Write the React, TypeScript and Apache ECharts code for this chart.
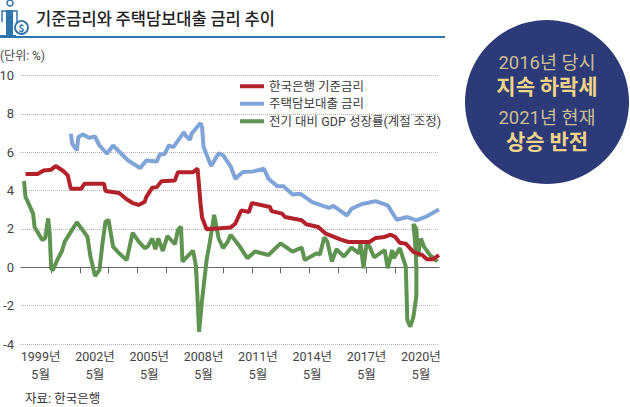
import React, { useEffect, useRef } from "react";
import * as echarts from "echarts";

const title = "기준금리와 주택담보대출 금리 추이";
const unitLabel = "(단위: %)";
const sourceLabel = "자료: 한국은행";
const seriesNames = ["한국은행 기준금리", "주택담보대출 금리", "전기 대비 GDP 성장률(계절 조정)"];
const calloutLines = ["2016년 당시", "지속 하락세", "2021년 현재", "상승 반전"];

// monthly categories, April 1998 to January 2021
const months: string[] = [];
for (let i = 0; i < 278; i++) {
  const m = 3 + i;
  months.push(`${1998 + Math.floor(m / 12)}-${(m % 12) + 1}`);
}

const baseRate: [number, number][] = [
  [3, 4.86], [11, 4.86], [15, 5.05], [20, 5.09], [23, 5.28], [28, 5.02], [31, 4.79], [33, 4.1], [40, 4.1], [42, 4.36],
  [55, 4.36], [56, 3.98], [65, 3.87], [70, 3.55], [74, 3.35], [78, 3.25], [82, 3.42], [83, 3.66], [87, 4.15], [90, 4.18],
  [93, 4.48], [102, 4.53], [104, 4.96], [114, 4.96], [117, 5.14], [119, 3.3], [120, 2.6], [123, 1.98], [139, 2.08], [142, 2.27],
  [146, 2.97], [151, 2.88], [153, 3.35], [165, 3.14], [166, 2.93], [173, 2.8], [175, 2.62], [186, 2.45], [189, 2.24], [197, 2.1],
  [202, 1.75], [212, 1.44], [217, 1.32], [231, 1.32], [235, 1.53], [241, 1.58], [245, 1.7], [248, 1.58], [251, 1.28], [255, 1.23],
  [260, 0.8], [266, 0.63], [269, 0.42], [273, 0.42], [277, 0.63],
];

const mortgageRate: [number, number][] = [
  [33, 6.96], [34, 6.44], [37, 6.09], [38, 6.79], [41, 6.93], [45, 6.75], [49, 6.82], [52, 6.35], [57, 5.92], [61, 6.35],
  [71, 5.57], [79, 5.17], [83, 5.57], [90, 5.52], [92, 5.89], [95, 5.89], [98, 6.35], [101, 6.27], [108, 7.05], [109, 6.88],
  [112, 6.65], [113, 6.96], [119, 7.52], [120, 7.3], [121, 6.27], [126, 5.28], [131, 5.95], [134, 5.83], [139, 5.25], [142, 4.62],
  [147, 4.97], [154, 5.0], [161, 5.14], [164, 4.62], [170, 4.22], [174, 4.22], [180, 3.8], [185, 3.84], [193, 3.4], [204, 3.1],
  [207, 3.2], [216, 2.7], [219, 3.05], [226, 3.3], [235, 3.45], [243, 3.23], [249, 2.48], [256, 2.62], [262, 2.45], [269, 2.66],
  [277, 3.02],
];

const gdpGrowth: [number, number][] = [
  [2, 4.5], [3, 3.65], [4, 3.5], [8, 2.8], [9, 2.1], [14, 1.43], [16, 1.5], [18, 2.55], [19, 1.77], [20, -0.05],
  [21, -0.17], [24, 0.38], [27, 0.82], [29, 1.34], [37, 2.35], [44, 1.6], [46, 0.56], [49, -0.45], [52, -0.14], [54, 1.25],
  [56, 2.38], [58, 2.47], [61, 1.08], [65, 0.73], [70, 0.38], [74, 1.8], [78, 1.34], [82, 1.0], [84, 1.08], [87, 1.5],
  [89, 0.94], [91, 1.5], [94, 0.85], [97, 1.63], [102, 1.2], [104, 1.95], [106, 2.12], [107, 0.3], [114, 0.87], [116, 0.03],
  [118, -3.36], [120, -1.7], [123, 0.38], [125, 1.25], [128, 2.73], [131, 1.5], [134, 1.0], [137, 1.34], [139, 1.69], [145, 1.08],
  [150, 0.47], [155, 0.82], [164, 0.64], [172, 1.25], [180, 0.82], [186, 1.03], [188, 0.38], [196, 0.73], [198, 0.65], [201, 1.56],
  [203, 1.34], [206, 0.3], [209, 0.94], [214, 0.56], [219, 1.03], [224, 0.73], [225, 1.25], [227, -0.05], [229, 1.25], [231, 1.08],
  [234, 0.52], [241, 0.9], [243, -0.05], [246, 0.9], [247, 0.47], [251, 1.0], [255, 0.03], [256, -2.75], [258, -3.1], [260, -2.6],
  [262, -1.5], [262, 0], [261, 1.5], [260, 2.26], [262, 2.0], [263, 0.56], [265, 1.5], [267, 1.08], [271, 0.64], [276, 0.3],
];

const colors = { base: "#b3222b", mortgage: "#7fa5d8", gdp: "#5f9450", brand: "#2f75ad", navy: "#2c3a78" };
const FONT = '"Noto Sans CJK KR", "Noto Sans", sans-serif';
const LATIN = 'Roboto, "Noto Sans CJK KR", sans-serif';

export default function App() {
  const ref = useRef<HTMLDivElement>(null);
  useEffect(() => {
    const chart = echarts.init(ref.current!, undefined, { renderer: "svg" });
    const icon = colors.brand;
    chart.setOption({
      animation: false,
      backgroundColor: "#ffffff",
      grid: { left: 21, right: 191, top: 75.5, bottom: 63, outerBoundsMode: "none" },
      legend: {
        left: 240,
        top: 80,
        padding: 0,
        orient: "vertical",
        itemWidth: 24,
        itemHeight: 4,
        itemGap: 5,
        icon: "rect",
        data: seriesNames,
        textStyle: { fontFamily: LATIN, fontSize: 12.5, color: "#3a3a3a" },
      },
      xAxis: [
        {
          type: "category",
          data: months,
          boundaryGap: false,
          position: "bottom",
          axisLine: { onZero: true, lineStyle: { color: "#666", width: 1 } },
          axisTick: { length: 6, lineStyle: { color: "#666" }, interval: (i: number) => i % 19 === 1 && i >= 20 && i <= 248 },
          axisLabel: { show: false },
        },
        {
          type: "category",
          data: months,
          boundaryGap: false,
          position: "bottom",
          axisLine: { show: false, onZero: false },
          axisTick: { show: false },
          axisLabel: {
            interval: (i: number) => i % 36 === 13,
            margin: 3,
            fontFamily: LATIN,
            fontSize: 12.5,
            lineHeight: 18,
            color: "#444",
            hideOverlap: false,
            formatter: (v: string) => {
              const [y, m] = v.split("-");
              return `${y}년\n${m}월`;
            },
          },
        },
      ],
      yAxis: {
        type: "value",
        min: -4,
        max: 10,
        interval: 2,
        axisLine: { show: false },
        axisTick: { show: false },
        axisLabel: { margin: 7, fontFamily: LATIN, fontSize: 13, color: "#444" },
        splitLine: { lineStyle: { color: "#b5b5b5", type: "dotted", width: 1 } },
      },
      series: [
        { name: seriesNames[2], type: "line", data: gdpGrowth, showSymbol: false, symbol: "none", lineStyle: { width: 4, color: colors.gdp }, itemStyle: { color: colors.gdp }, z: 2 },
        { name: seriesNames[1], type: "line", data: mortgageRate, showSymbol: false, symbol: "none", lineStyle: { width: 4, color: colors.mortgage }, itemStyle: { color: colors.mortgage }, z: 3 },
        { name: seriesNames[0], type: "line", data: baseRate, showSymbol: false, symbol: "none", lineStyle: { width: 4, color: colors.base }, itemStyle: { color: colors.base }, z: 4 },
      ],
      graphic: [
        { type: "text", left: 36, top: 10, style: { text: title, fontFamily: FONT, fontSize: 16.5, fontWeight: 500, fill: "#222" } },
        { type: "rect", shape: { x: 0, y: 36, width: 445, height: 2 }, style: { fill: colors.brand } },
        { type: "text", left: 0, top: 50, style: { text: unitLabel, fontFamily: LATIN, fontSize: 12, fill: "#444" } },
        { type: "text", left: 25, top: 392, style: { text: sourceLabel, fontFamily: LATIN, fontSize: 12.5, fill: "#333" } },
        // icon
        { type: "circle", shape: { cx: 10, cy: 3, r: 3 }, style: { fill: "#fff", stroke: icon, lineWidth: 1.5 } },
        { type: "polyline", shape: { points: [[2, 22], [2, 11], [17, 11], [17, 22]] }, style: { fill: "none", stroke: icon, lineWidth: 1.5 } },
        { type: "rect", shape: { x: 6, y: 10, width: 7, height: 25 }, style: { fill: icon } },
        { type: "rect", shape: { x: 0, y: 35, width: 16, height: 2 }, style: { fill: icon } },
        { type: "circle", shape: { cx: 21.5, cy: 27.5, r: 6.5 }, style: { fill: "#fff", stroke: icon, lineWidth: 1.8 } },
        { type: "text", x: 21.5, y: 27.5, style: { text: "$", align: "center", verticalAlign: "middle", fontFamily: FONT, fontSize: 10, fontWeight: 700, fill: icon } },
        // callout
        { type: "circle", shape: { cx: 547, cy: 102, r: 82 }, style: { fill: colors.navy } },
        { type: "text", x: 547, y: 63, style: { text: calloutLines[0], align: "center", verticalAlign: "middle", fontFamily: LATIN, fontSize: 18.5, fill: "#cdbd92" } },
        { type: "text", x: 547, y: 85, style: { text: calloutLines[1], align: "center", verticalAlign: "middle", fontFamily: FONT, fontSize: 21, fontWeight: 700, fill: "#f0d48a" } },
        { type: "text", x: 547, y: 118, style: { text: calloutLines[2], align: "center", verticalAlign: "middle", fontFamily: LATIN, fontSize: 18.5, fill: "#cdbd92" } },
        { type: "text", x: 547, y: 140, style: { text: calloutLines[3], align: "center", verticalAlign: "middle", fontFamily: FONT, fontSize: 21, fontWeight: 700, fill: "#f0d48a" } },
      ],
    });
    return () => chart.dispose();
  }, []);
  return <div ref={ref} style={{ position: "fixed", left: 0, top: 0, width: 630, height: 407 }} />;
}
